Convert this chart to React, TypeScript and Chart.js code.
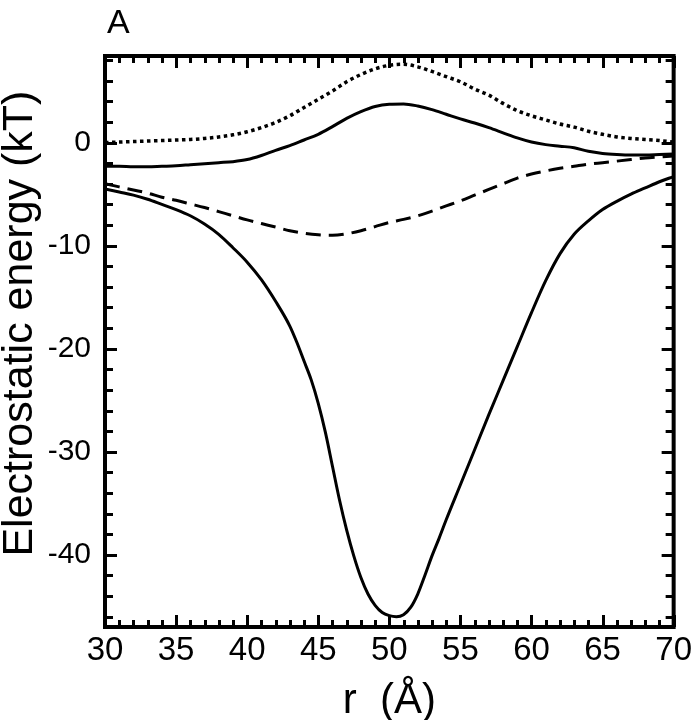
import React, { useEffect, useRef } from 'react';
import { Chart, registerables } from 'chart.js';

Chart.register(...registerables);

// ---- data ----
const rValues = [
  30, 31, 32, 33, 34, 35, 36, 37, 38, 39, 40, 41, 42, 43, 44, 45, 46, 47, 48, 49, 50,
  51, 52, 53, 54, 55, 56, 57, 58, 59, 60, 61, 62, 63, 64, 65, 66, 67, 68, 69, 70,
];

const dottedSeries = [
  0.0, 0.05, 0.1, 0.15, 0.2, 0.25, 0.3, 0.4, 0.55, 0.75, 1.05, 1.45, 1.95, 2.6, 3.4, 4.2, 5.0, 5.9, 6.6, 7.15, 7.5,
  7.6, 7.35, 6.9, 6.4, 5.9, 5.2, 4.6, 3.8, 3.1, 2.6, 2.2, 1.8, 1.5, 1.1, 0.8, 0.55, 0.4, 0.3, 0.2, 0.05,
];

const upperSolidSeries = [
  -2.3, -2.3, -2.35, -2.35, -2.3, -2.25, -2.15, -2.05, -1.95, -1.85, -1.65, -1.25, -0.75, -0.3, 0.25, 0.8, 1.55, 2.35, 3.0, 3.5, 3.72,
  3.75, 3.55, 3.2, 2.75, 2.3, 1.9, 1.45, 0.95, 0.45, 0.05, -0.2, -0.35, -0.5, -0.85, -1.05, -1.15, -1.2, -1.2, -1.15, -1.1,
];

const dashedSeries = [
  -4.0, -4.3, -4.6, -4.9, -5.3, -5.6, -5.95, -6.3, -6.7, -7.1, -7.5, -7.85, -8.2, -8.55, -8.8, -8.95, -9.0, -8.85, -8.55, -8.15, -7.75,
  -7.45, -7.1, -6.65, -6.15, -5.65, -5.1, -4.55, -4.0, -3.45, -3.05, -2.75, -2.5, -2.3, -2.1, -1.95, -1.8, -1.65, -1.5, -1.4, -1.3,
];

const rLower = [
  30, 31, 32, 33, 34, 35, 36, 37, 38, 39, 40, 41, 42,
  43, 43.5, 44, 44.5, 45, 45.5, 46, 46.5, 47, 47.5, 48, 48.5, 49, 49.5, 50, 50.5, 51, 51.5, 52, 52.5, 53, 53.5, 54,
  55, 56, 57, 58, 59, 60, 61, 62, 63, 64, 65, 66, 67, 68, 69, 70,
];

const lowerSolidSeries = [
  -4.5, -4.8, -5.1, -5.5, -6.0, -6.5, -7.1, -7.9, -8.9, -10.2, -11.6, -13.3, -15.4,
  -17.8, -19.4, -21.2, -23.0, -25.3, -28.1, -31.4, -34.7, -37.6, -40.1, -42.2, -43.8, -44.9, -45.6, -45.9, -46.0,
  -45.8, -45.1, -43.8, -42.0, -40.1, -38.4, -36.6,
  -33.2, -29.8, -26.4, -23.1, -19.8, -16.5, -13.4, -10.8, -8.9, -7.6, -6.5, -5.7, -5.0, -4.4, -3.8, -3.3,
];

const xTickLabels = [30, 35, 40, 45, 50, 55, 60, 65, 70];
const yTickLabels = [-40, -30, -20, -10, 0];

const X_MIN = 30;
const X_MAX = 70;
const Y_MIN = -47;
const Y_MAX = 8.4;

const xTitle = 'r  (Å)';
const yTitle = 'Electrostatic energy (kT)';
const panelLabel = 'A';

const FONT = '"Liberation Sans", Arial, Helvetica, sans-serif';

const toPoints = (xs: number[], ys: number[]) => xs.map((x, i) => ({ x, y: ys[i] }));

// frame + inward ticks on all four sides, and panel label
const frameTicksPlugin = {
  id: 'frameTicks',
  afterDraw(chart: any) {
    const { ctx, chartArea, scales } = chart;
    const { left, right, top, bottom } = chartArea;
    const xs = scales.x;
    const ys = scales.y;
    ctx.save();
    ctx.strokeStyle = '#000';
    ctx.lineCap = 'butt';
    ctx.lineWidth = 3;
    ctx.beginPath();
    for (let v = X_MIN; v <= X_MAX + 1e-9; v += 1) {
      const px = Math.round(xs.getPixelForValue(v)) + 0.5;
      const len = v % 5 === 0 ? 12 : 7;
      ctx.moveTo(px, bottom);
      ctx.lineTo(px, bottom - len);
      ctx.moveTo(px, top);
      ctx.lineTo(px, top + len);
    }
    for (let v = -46; v <= Y_MAX; v += 2) {
      const py = Math.round(ys.getPixelForValue(v)) + 0.5;
      const len = v % 10 === 0 ? 12 : 8;
      ctx.moveTo(left, py);
      ctx.lineTo(left + len, py);
      ctx.moveTo(right, py);
      ctx.lineTo(right - len, py);
    }
    ctx.stroke();
    ctx.lineWidth = 4;
    ctx.strokeRect(left, top, right - left, bottom - top);

    ctx.fillStyle = '#000';
    ctx.font = `34px ${FONT}`;
    ctx.textAlign = 'left';
    ctx.textBaseline = 'alphabetic';
    ctx.fillText(panelLabel, left + 2, 33);
    ctx.restore();
  },
};

export default function App() {
  const canvasRef = useRef<HTMLCanvasElement | null>(null);

  useEffect(() => {
    const canvas = canvasRef.current;
    if (!canvas) return;
    Chart.defaults.font.family = FONT;
    Chart.defaults.color = '#000';

    const lineBase = {
      borderColor: '#000',
      backgroundColor: '#000',
      borderWidth: 3,
      pointRadius: 0,
      fill: false,
      cubicInterpolationMode: 'monotone' as const,
    };

    const chart = new Chart(canvas, {
      type: 'line',
      data: {
        datasets: [
          { ...lineBase, label: 'dotted', data: toPoints(rValues, dottedSeries), borderDash: [3.5, 3.5], borderWidth: 3.5 },
          { ...lineBase, label: 'solid upper', data: toPoints(rValues, upperSolidSeries) },
          { ...lineBase, label: 'dashed', data: toPoints(rValues, dashedSeries), borderDash: [15, 8] },
          { ...lineBase, label: 'solid lower', data: toPoints(rLower, lowerSolidSeries) },
        ],
      },
      options: {
        animation: false,
        responsive: false,
        devicePixelRatio: 1,
        layout: { padding: { left: 0, right: 19, top: 56, bottom: 0 } },
        plugins: {
          legend: { display: false },
          tooltip: { enabled: false },
          title: { display: false },
        },
        scales: {
          x: {
            type: 'linear',
            min: X_MIN,
            max: X_MAX,
            grid: { display: false, drawTicks: false },
            border: { display: false },
            ticks: {
              stepSize: 5,
              autoSkip: false,
              maxRotation: 0,
              padding: 4,
              color: '#000',
              font: { size: 33, family: FONT },
              callback: (v: any) => (xTickLabels.includes(Number(v)) ? String(v) : ''),
            },
            title: {
              display: true,
              text: xTitle,
              color: '#000',
              font: { size: 42, family: FONT, lineHeight: 0.9 },
              padding: { top: 0, bottom: 0 },
            },
            afterFit: (scale: any) => {
              scale.height = 93;
            },
          },
          y: {
            type: 'linear',
            min: Y_MIN,
            max: Y_MAX,
            grid: { display: false, drawTicks: false },
            border: { display: false },
            ticks: {
              stepSize: 10,
              includeBounds: false,
              padding: 14,
              color: '#000',
              font: { size: 30, family: FONT },
              callback: (v: any) => (yTickLabels.includes(Number(v)) ? String(v) : ''),
            },
            title: {
              display: true,
              text: '   ' + yTitle,
              color: '#000',
              font: { size: 43, family: FONT, lineHeight: 0.93 },
              padding: { top: 0, bottom: 0 },
            },
            afterFit: (scale: any) => {
              scale.width = 105;
            },
          },
        },
      },
      plugins: [frameTicksPlugin],
    });

    return () => chart.destroy();
  }, []);

  return (
    <div style={{ position: 'absolute', left: 0, top: 0, width: 696, height: 720, background: '#fff' }}>
      <canvas ref={canvasRef} width={696} height={720} style={{ width: 696, height: 720, display: 'block' }} />
    </div>
  );
}
